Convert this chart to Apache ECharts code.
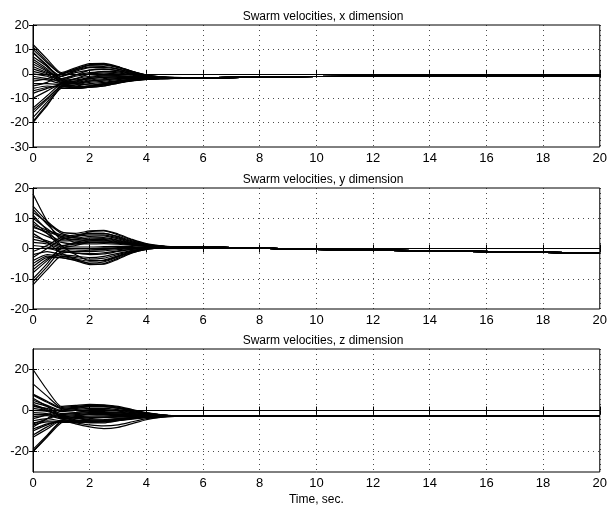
<!DOCTYPE html>
<html>
<head>
<meta charset="utf-8">
<script src="https://cdn.jsdelivr.net/npm/echarts@6/dist/echarts.min.js"></script>
<style>
  html, body { margin: 0; padding: 0; background: #fff; }
  #chart { width: 610px; height: 507px; }
</style>
</head>
<body>
<div id="chart"></div>
<script>
// sample times for the transient part and for the settled tail
var timeEarly = [0, 0.5, 1, 1.5, 2, 2.5, 3, 3.5, 4, 4.5, 5];
var timeTail = [6, 8, 10, 14, 20];

var titles = ['Swarm velocities, x dimension', 'Swarm velocities, y dimension', 'Swarm velocities, z dimension'];
var xTicks = [0, 2, 4, 6, 8, 10, 12, 14, 16, 18, 20];
var yTicksX = [-30, -20, -10, 0, 10, 20];
var yTicksY = [-20, -10, 0, 10, 20];
var yTicksZ = [-20, 0, 20];

// x dimension, one row per agent (values at timeEarly)
var velX = [
  [12, 6, 0.5, 2.5, 4.2, 4.3, 3, 1, -0.5, -1.2, -1.5],
  [11, 5, 0, 2, 3.5, 3.6, 2.5, 0.8, -0.6, -1.3, -1.6],
  [10, 4.5, 0, 1.5, 2.8, 3, 2, 0.5, -0.8, -1.4, -1.6],
  [8.5, 3.5, -2.5, -4, -4.5, -4, -3, -2.3, -2, -1.9, -1.9],
  [7, 3, -1, 0.5, 1.5, 1.8, 1.2, 0, -1, -1.5, -1.7],
  [6, 2, -4, -5.5, -5, -4, -3, -2.3, -2, -1.9, -1.9],
  [5, 1.5, -2, -0.5, 0.5, 0.8, 0.4, -0.4, -1.1, -1.6, -1.7],
  [4, 1, -2.5, -1, 0, 0.3, 0, -0.6, -1.2, -1.6, -1.8],
  [3, 0.5, -1, 1.5, 3.5, 3.8, 2.8, 1, -0.5, -1.3, -1.6],
  [2, 0, -3, -2, -1, -0.6, -0.7, -1, -1.4, -1.7, -1.8],
  [1, -0.5, -2.5, -2.5, -1.5, -1, -1, -1.2, -1.5, -1.7, -1.8],
  [0, -1, -3.5, -3, -2, -1.5, -1.3, -1.4, -1.6, -1.8, -1.8],
  [-1, -2, -3, -3.5, -2.5, -2, -1.6, -1.6, -1.7, -1.8, -1.8],
  [-2, -2.5, -4, -4, -3, -2.5, -2, -1.8, -1.8, -1.8, -1.9],
  [-3, -2, 0, 2, 3.8, 4, 2.8, 0.9, -0.6, -1.3, -1.6],
  [-4, -4, -4.5, -5, -4, -3.5, -2.8, -2.2, -2, -1.9, -1.9],
  [-5, -3.5, -1, 1, 2.5, 2.6, 1.8, 0.4, -0.8, -1.4, -1.6],
  [-6, -5, -5.5, -5.5, -5, -4.3, -3.5, -2.7, -2.2, -2, -1.9],
  [-7, -5.5, -5, -6, -5.5, -4.6, -3.6, -2.8, -2.3, -2, -1.9],
  [-8, -6, -4.5, -5, -5.5, -5, -3.8, -2.9, -2.3, -2, -1.9],
  [-14, -9, -4, -3, -2, -1.5, -1.2, -1.3, -1.5, -1.7, -1.8],
  [-15, -10, -5, -4, -3, -2.5, -2, -1.8, -1.8, -1.8, -1.8],
  [-16, -10.5, -5, -5.5, -5, -4.5, -3.5, -2.6, -2.2, -2, -1.9],
  [-18, -11.5, -5, -3.5, -1.5, -0.8, -0.8, -1.1, -1.4, -1.7, -1.8],
  [-19.5, -12.5, -5.5, -4.5, -3.5, -3, -2.4, -2, -1.9, -1.8, -1.8],
  [-20, -13, -6, -6, -5.5, -5, -3.8, -2.8, -2.3, -2, -1.9],
  [9, 3, -2, -0.5, 1.5, 2, 1.3, 0.1, -0.9, -1.4, -1.6],
  [-10, -7, -4, -2, 0, 1, 0.8, -0.2, -1, -1.5, -1.7]
];
var tailX = [-1.7, -1.3, -1.1, -1.05, -1.0];

// y dimension
var velY = [
  [18, 9, 3, 4, 5.5, 5.8, 4.5, 2.8, 1.5, 0.8, 0.5],
  [13, 8, 4, 4.5, 5, 5, 4, 2.5, 1.4, 0.8, 0.5],
  [12, 8.5, 5, 4, 4.5, 4.5, 3.5, 2.2, 1.2, 0.8, 0.5],
  [11, 6, 1, -2, -4, -4, -2.6, -1, 0, 0.3, 0.4],
  [10, 6.5, 3.5, 3, 3.5, 3.6, 2.8, 1.8, 1, 0.7, 0.5],
  [8, 6, 4.5, 3.5, 3, 3, 2.4, 1.6, 1, 0.7, 0.5],
  [7.5, 5, 2.5, 2.5, 2.5, 2.5, 2, 1.4, 0.9, 0.6, 0.5],
  [7, 5.5, 4, 2, 2, 2, 1.7, 1.2, 0.8, 0.6, 0.5],
  [6, 4, 2, 1.5, 1.5, 1.6, 1.4, 1, 0.7, 0.6, 0.5],
  [5, 2, -1.5, -3.5, -5, -5.2, -3.5, -1.5, -0.3, 0.2, 0.4],
  [4, 2.5, 1, 0.5, 0.5, 0.6, 0.7, 0.6, 0.5, 0.5, 0.5],
  [3, 2, 0.5, 0, 0, 0.2, 0.3, 0.4, 0.4, 0.4, 0.5],
  [2, 1.5, 0, -0.5, -0.5, -0.3, 0, 0.2, 0.3, 0.4, 0.5],
  [1, 0.5, -0.5, -1, -1, -0.8, -0.4, 0, 0.2, 0.4, 0.5],
  [0, 0, -1, -1.5, -1.7, -1.4, -0.8, -0.2, 0.2, 0.4, 0.5],
  [-1, 1, 3.5, 3.5, 4, 4.2, 3.2, 1.9, 1.1, 0.7, 0.5],
  [-2, -1, -2, -2.5, -3, -2.6, -1.6, -0.6, 0, 0.3, 0.4],
  [-3, 0, 3, 4, 5, 5, 3.8, 2.2, 1.2, 0.7, 0.5],
  [-4, -2, -2.5, -3.5, -4.2, -3.8, -2.4, -1, -0.1, 0.3, 0.4],
  [-5, -2.5, -3, -3.8, -4.8, -4.4, -2.8, -1.2, -0.2, 0.3, 0.4],
  [-6, -3, -3, -4, -5.3, -5, -3.2, -1.4, -0.3, 0.2, 0.4],
  [-8, -4, 0, 1, 2, 2.2, 1.8, 1.2, 0.8, 0.6, 0.5],
  [-10, -5, 0.5, 2, 3, 3.3, 2.6, 1.6, 1, 0.7, 0.5],
  [-11, -6, -1, -1.5, -2, -1.8, -1, -0.3, 0.2, 0.4, 0.5],
  [-12, -7, -2.5, -3, -3.5, -3.2, -2, -0.8, 0, 0.3, 0.4],
  [9, 5, 1, 1.5, 2.5, 2.8, 2.2, 1.4, 0.9, 0.6, 0.5],
  [-7, -3.5, -1.5, -1, -0.5, -0.3, 0, 0.2, 0.3, 0.4, 0.5],
  [14, 9, 5.5, 5, 5.8, 6, 4.8, 3, 1.6, 0.9, 0.5]
];
var tailY = [0.5, 0.1, -0.3, -0.8, -1.5];

// z dimension
var velZ = [
  [20, 10, 2, 2.5, 3, 2.8, 2, 0.5, -1, -2, -2.6],
  [13, 7, 1.5, 2, 2.5, 2.4, 1.6, 0.2, -1.2, -2.1, -2.6],
  [7.5, 4, 1, 1.5, 2, 2, 1.2, 0, -1.3, -2.1, -2.6],
  [6, 2, -3, -5, -6, -6, -5, -4, -3.2, -2.9, -2.8],
  [5, 2.5, 0, 0.5, 1, 1, 0.4, -0.6, -1.6, -2.2, -2.6],
  [4, 2, -0.5, 0, 0.5, 0.5, 0, -0.9, -1.8, -2.3, -2.6],
  [3, 0.5, -3, -4.5, -5.5, -5.4, -4.7, -3.9, -3.2, -2.9, -2.8],
  [2, 1, -1.5, -1, -0.5, -0.5, -0.8, -1.4, -2, -2.4, -2.6],
  [1, 0, -2, -1.5, -1, -1, -1.2, -1.7, -2.2, -2.5, -2.7],
  [0, -0.5, -2.5, -2, -1.5, -1.5, -1.6, -2, -2.3, -2.5, -2.7],
  [-1, -1.5, -3, -2.5, -2, -2, -2, -2.2, -2.5, -2.6, -2.7],
  [-2, -2, -3.5, -3, -2.7, -2.6, -2.5, -2.5, -2.6, -2.7, -2.7],
  [-3, -2.5, -4, -3.5, -3.3, -3.2, -3, -2.8, -2.8, -2.7, -2.7],
  [-4, -2, 0.5, 1, 1.8, 1.7, 1, -0.4, -1.5, -2.2, -2.6],
  [-5, -4, -5, -4.8, -4.6, -4.4, -4, -3.5, -3.1, -2.9, -2.8],
  [-6, -5, -5.5, -5.3, -5.2, -5, -4.5, -3.8, -3.3, -2.9, -2.8],
  [-7, -5.5, -5.8, -5.8, -5.8, -5.6, -5, -4.2, -3.5, -3, -2.8],
  [-8, -4, 0, 1.5, 2.5, 2.5, 1.6, 0, -1.3, -2.1, -2.6],
  [-9, -6.5, -5.5, -6, -7, -7.5, -7, -5.5, -4, -3.2, -2.8],
  [-10, -7, -5, -6.5, -8, -8.8, -8.2, -6.4, -4.5, -3.4, -2.9],
  [-12, -8, -4.5, -4, -3.5, -3.2, -3, -2.9, -2.8, -2.8, -2.7],
  [-13, -9, -5, -5, -4.8, -4.5, -4, -3.5, -3.1, -2.9, -2.8],
  [-19, -12, -5.5, -5.5, -5.5, -5.2, -4.6, -3.8, -3.3, -2.9, -2.8],
  [-20, -13, -6, -5, -4, -3.5, -3.2, -3, -2.9, -2.8, -2.7],
  [-20, -12.5, -5, -3, -1.5, -1, -1.2, -1.7, -2.2, -2.5, -2.7],
  [8, 4.5, 1, 0, -1, -1.5, -1.8, -2.1, -2.4, -2.6, -2.7],
  [-6.5, -4, -2, -1, 0, 0.2, -0.3, -1, -1.8, -2.3, -2.6],
  [2.5, 0, -2.5, -3.5, -4.5, -4.8, -4.2, -3.5, -3.1, -2.9, -2.8]
];
var tailZ = [-2.7, -2.7, -2.7, -2.7, -2.7];

var FONT = 'Liberation Sans';
var gridStyle = {color: '#000', type: [1, 4], width: 1, opacity: 0.7};

var t = echarts.init(document.getElementById('chart'));

var grids = [
  {left: 33, right: 7, top: 25, height: 122},
  {left: 33, right: 7, top: 188, height: 121},
  {left: 33, right: 7, top: 349, height: 124}
];
var panels = [
  {rows: velX, tail: tailX, min: -30, max: 20, ticks: yTicksX},
  {rows: velY, tail: tailY, min: -20, max: 20, ticks: yTicksY},
  {rows: velZ, tail: tailZ, min: -30, max: 30, ticks: yTicksZ}
];

var xAxes = [], yAxes = [], series = [], titleList = [];

panels.forEach(function (p, i) {
  grids[i].show = true;
  grids[i].borderColor = '#000';
  grids[i].borderWidth = 1;

  titleList.push({
    text: titles[i],
    left: 318, top: grids[i].top - 19,
    textAlign: 'center',
    textStyle: {fontFamily: FONT, fontSize: 12, fontWeight: 'normal', color: '#000'}
  });

  var xa = {
    type: 'value', gridIndex: i, min: 0, max: 20, interval: 2,
    axisLine: {lineStyle: {color: '#000'}},
    axisTick: {inside: true, length: 4, lineStyle: {color: '#000'}},
    axisLabel: {color: '#000', fontFamily: FONT, fontSize: 13, margin: 5,
      customValues: xTicks},
    splitLine: {show: true, lineStyle: gridStyle}
  };
  if (i === 2) {
    xa.name = 'Time, sec.';
    xa.nameLocation = 'middle';
    xa.nameGap = 22;
    xa.nameTextStyle = {color: '#000', fontFamily: FONT, fontSize: 12};
  }
  xAxes.push(xa);
  // mirrored ticks on top
  xAxes.push({
    type: 'value', gridIndex: i, min: 0, max: 20, interval: 2, position: 'top',
    axisLine: {lineStyle: {color: '#000'}},
    axisTick: {inside: true, length: 4, lineStyle: {color: '#000'}},
    axisLabel: {show: false}, splitLine: {show: false}
  });

  yAxes.push({
    type: 'value', gridIndex: i, min: p.min, max: p.max, interval: 10,
    axisLine: {show: true, lineStyle: {color: '#000'}},
    axisTick: {show: true, inside: true, length: 4, lineStyle: {color: '#000'}, customValues: p.ticks},
    axisLabel: {color: '#000', fontFamily: FONT, fontSize: 13, margin: 4, customValues: p.ticks},
    splitLine: {show: false}
  });
  yAxes.push({
    type: 'value', gridIndex: i, min: p.min, max: p.max, interval: 10, position: 'right',
    axisLine: {show: true, lineStyle: {color: '#000'}},
    axisTick: {show: true, inside: true, length: 4, lineStyle: {color: '#000'}, customValues: p.ticks},
    axisLabel: {show: false}, splitLine: {show: false}
  });

  // dotted horizontal grid at the labelled values only
  series.push({
    type: 'line', xAxisIndex: i * 2, yAxisIndex: i * 2, data: [], z: 1, silent: true,
    markLine: {
      silent: true, symbol: 'none', animation: false,
      label: {show: false}, lineStyle: gridStyle,
      data: p.ticks.filter(function (v) { return v > p.min && v < p.max; })
        .map(function (v) { return {yAxis: v}; })
    }
  });

  p.rows.forEach(function (row) {
    var data = [];
    timeEarly.forEach(function (tt, k) { data.push([tt, row[k]]); });
    timeTail.forEach(function (tt, k) { data.push([tt, p.tail[k]]); });
    series.push({
      type: 'line', xAxisIndex: i * 2, yAxisIndex: i * 2, z: 2,
      data: data, showSymbol: false, smooth: 0.2,
      silent: true, animation: false,
      lineStyle: {color: '#000', width: 1.2}
    });
  });
});

t.setOption({
  backgroundColor: '#fff',
  animation: false,
  title: titleList,
  grid: grids,
  xAxis: xAxes,
  yAxis: yAxes,
  series: series
});
</script>
</body>
</html>
